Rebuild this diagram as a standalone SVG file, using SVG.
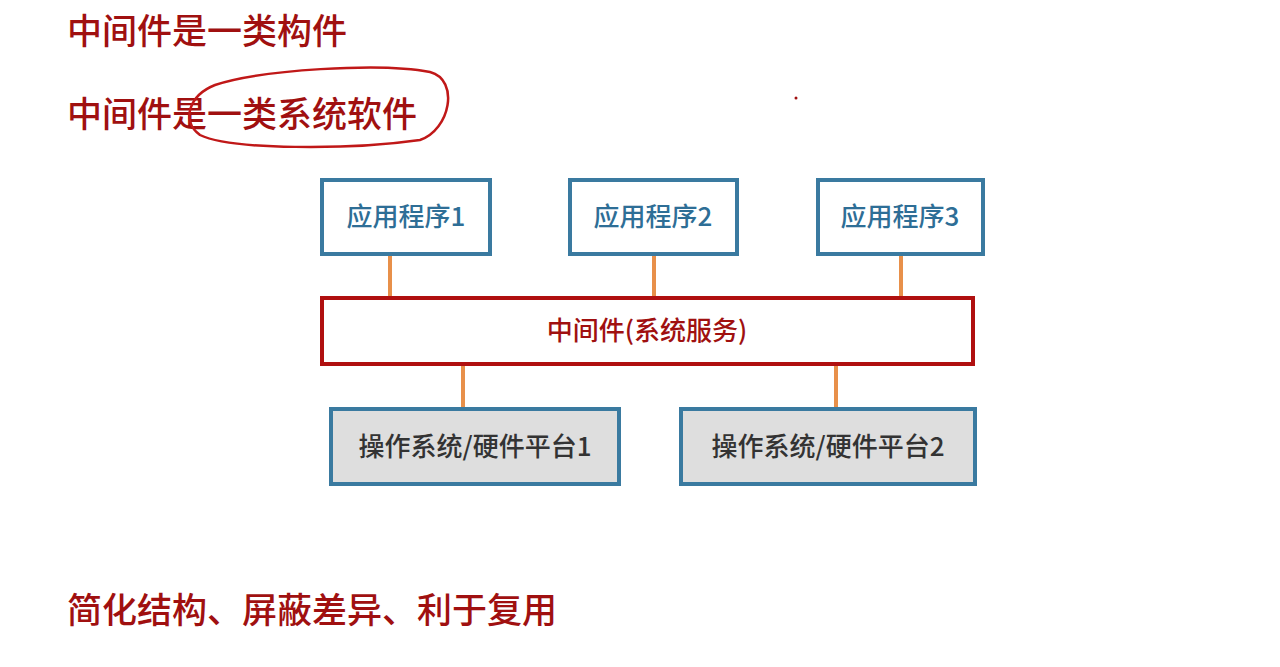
<svg xmlns="http://www.w3.org/2000/svg" width="1280" height="667" viewBox="0 0 1280 667">
<style>
.t{font-family:"Noto Sans CJK SC","Noto Sans",sans-serif;fill:#a01010;font-size:35px;font-weight:500}
.app rect{fill:#fff;stroke:#3a7aa0;stroke-width:4}
.app text{font-family:"Noto Sans CJK SC",sans-serif;font-size:26px;font-weight:500;fill:#2e6e96;text-anchor:middle}
.os rect{fill:#dedede;stroke:#3a7aa0;stroke-width:4}
.os text{font-family:"Noto Sans CJK SC",sans-serif;font-size:26px;font-weight:500;fill:#333;text-anchor:middle}
.mw rect{fill:#fff;stroke:#b01010;stroke-width:4}
.mw text{font-family:"Noto Sans CJK SC",sans-serif;font-size:26px;font-weight:500;fill:#a01010;text-anchor:middle}
.c line{stroke:#e8904a;stroke-width:4}
</style>
<rect width="1280" height="667" fill="#fff"/>
<text class="t" x="67" y="44">中间件是一类构件</text>
<text class="t" x="67" y="127">中间件是一类系统软件</text>
<text class="t" x="67" y="623">简化结构、屏蔽差异、利于复用</text>
<path d="M 215 85 C 260 70, 380 62, 430 72 C 460 80, 450 130, 420 140 C 350 150, 230 150, 200 135 C 180 120, 190 95, 215 85" fill="none" stroke="#c01818" stroke-width="2.5"/>
<circle cx="796" cy="98" r="1.5" fill="#a01010"/>
<g class="c">
<line x1="390" y1="254" x2="390" y2="298"/>
<line x1="654" y1="254" x2="654" y2="298"/>
<line x1="901" y1="254" x2="901" y2="298"/>
<line x1="463" y1="364" x2="463" y2="409"/>
<line x1="836" y1="364" x2="836" y2="409"/>
</g>
<g id="app1" class="app"><rect x="322" y="180" width="168" height="74"/><text x="406" y="226">应用程序1</text></g>
<g id="app2" class="app"><rect x="570" y="180" width="167" height="74"/><text x="653" y="226">应用程序2</text></g>
<g id="app3" class="app"><rect x="818" y="180" width="165" height="74"/><text x="900" y="226">应用程序3</text></g>
<g id="mw" class="mw"><rect x="322" y="298" width="651" height="66"/><text x="647" y="340">中间件(系统服务)</text></g>
<g id="os1" class="os"><rect x="331" y="409" width="288" height="75"/><text x="475" y="456">操作系统/硬件平台1</text></g>
<g id="os2" class="os"><rect x="681" y="409" width="294" height="75"/><text x="828" y="456">操作系统/硬件平台2</text></g>
</svg>
